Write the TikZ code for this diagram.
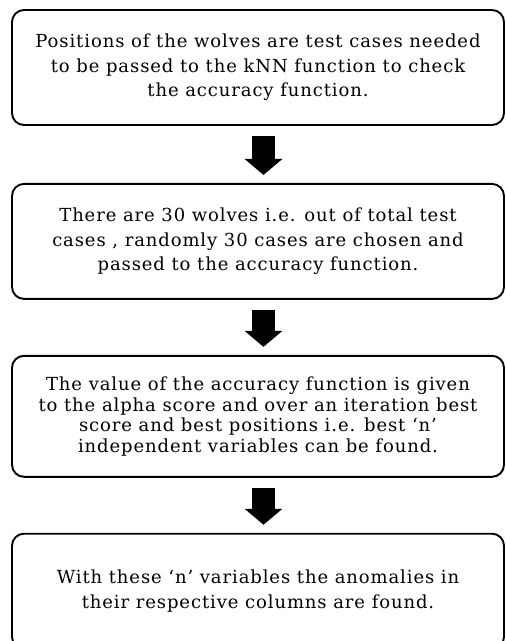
\documentclass[tikz,border=0pt]{standalone}
\usepackage{fontspec}
\setmainfont{DejaVu Serif}
\newfontfamily\boxfont[LetterSpace=5]{DejaVu Serif}
\usetikzlibrary{arrows.meta,positioning}
\tikzset{box/.style={draw=black,line width=1.9pt,rounded corners=12pt,fill=white,align=center,minimum width=492pt,minimum height=115pt,inner sep=0pt,font=\boxfont\fontsize{18}{24.5}\selectfont},arr/.style={line width=23pt,-{Triangle[length=16pt,width=37pt]},shorten <=10pt,shorten >=8pt}}

\begin{document}
\begin{tikzpicture}[x=1pt,y=1pt]
\clip (0,0) rectangle (506,-641);
\node[box] (pos) at (258,-67.5) {Positions of the wolves are test cases needed\\to be passed to the kNN function to check\\the accuracy function.};
\node[box,below=57pt of pos] (wolves) {There are 30 wolves i.e. out of total test\\cases , randomly 30 cases are chosen and\\passed to the accuracy function.};
\node[box,below=55pt of wolves,minimum height=121pt,font=\boxfont\fontsize{18}{20.5}\selectfont] (alpha) {The value of the accuracy function is given\\to the alpha score and over an iteration best\\score and best positions i.e. best ‘n’\\independent variables can be found.};
\node[box,below=55pt of alpha] (anom) {With these ‘n’ variables the anomalies in\\their respective columns are found.};
% block arrows between the steps
\draw[arr] ([xshift=5.5pt]pos.south) -- ([xshift=5.5pt]wolves.north);
\draw[arr] ([xshift=5.5pt]wolves.south) -- ([xshift=5.5pt]alpha.north);
\draw[arr] ([xshift=5.5pt]alpha.south) -- ([xshift=5.5pt]anom.north);
\end{tikzpicture}
\end{document}
